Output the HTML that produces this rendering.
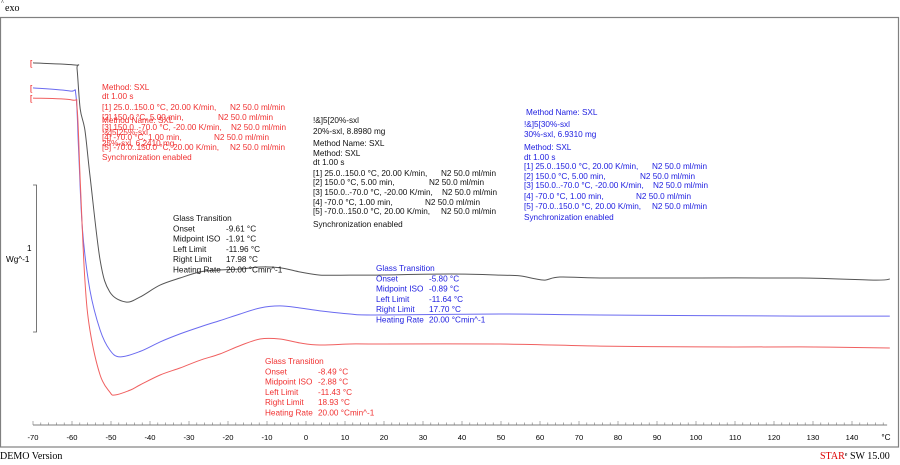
<!DOCTYPE html>
<html><head><meta charset="utf-8">
<style>
html,body{margin:0;padding:0;background:#fff;}
svg{display:block;}
text{font-family:"Liberation Sans",sans-serif;font-size:8.2px;}
.mono{font-family:"Liberation Serif",serif;font-size:10px;}
</style></head>
<body>
<svg id="chart" width="900" height="465" viewBox="0 0 900 465">
<text x="1" y="4" class="mono" style="font-size:6px">^</text>
<text x="5" y="11" class="mono">exo</text>
<rect x="0.5" y="17.5" width="898" height="429.5" fill="none" stroke="#808080" stroke-width="1.2"/>
<path d="M33 185 H36.5 V332 H33" fill="none" stroke="#555" stroke-width="0.8"/>
<text x="27" y="251">1</text>
<text x="6" y="262">Wg^-1</text>
<g id="axis"></g>
<g id="curves"></g>
<g id="texts"></g>
<text x="0" y="459" class="mono">DEMO Version</text>
<text x="820" y="459" class="mono"><tspan fill="#d00">STAR</tspan><tspan style="font-size:6px" dy="-3">e</tspan><tspan dy="3"> SW 15.00</tspan></text>
</svg>
<script>
// ---- data ----
const xTicks = [-70,-60,-50,-40,-30,-20,-10,0,10,20,30,40,50,60,70,80,90,100,110,120,130,140];
const tempBlack = [-70,-59.2,-58.7,-57.9,-56.7,-55.4,-52.8,-50.3,-46.2,-42.6,-37.4,-32.3,-27.2,-22.1,-16.9,-11.8,-6.7,-1.5,3.6,11.3,17.7,36.9,49.7,54.9,58.5,61.3,65.1,75.4,101,126.7,145.9,149.7];
const hfBlack   = [2.463,2.449,2.42,2.15,2.007,1.7,1.122,0.905,0.837,0.87,0.952,1.0,1.041,1.055,1.061,1.075,1.07,1.041,1.02,1.02,1.02,1.027,1.02,1.014,0.996,0.986,1.007,1.0,1.0,1.0,0.986,0.993];
const tempBlue  = [-70,-60.5,-59.0,-58.3,-57.3,-55.4,-52.8,-50.3,-47.7,-42.6,-37.4,-32.3,-27.2,-22.1,-16.9,-11.8,-6.7,-1.5,3.6,11.3,17.7,49.7,75.4,126.7,149.7];
const hfBlue    = [2.293,2.272,2.245,1.871,1.327,0.918,0.646,0.51,0.463,0.5,0.565,0.62,0.667,0.71,0.755,0.796,0.81,0.796,0.776,0.755,0.748,0.755,0.748,0.741,0.741];
const tempRed   = [-70,-60,-58.7,-57.9,-56.7,-55.4,-52.8,-50.3,-49,-45,-42.6,-37.4,-32.3,-27.2,-22.1,-16.9,-11.8,-6.7,-1.5,3.6,11.3,17.7,49.7,75.4,101,126.7,149.7];
const hfRed     = [2.224,2.211,2.156,1.667,0.986,0.646,0.34,0.224,0.204,0.238,0.272,0.34,0.388,0.44,0.483,0.54,0.585,0.585,0.558,0.544,0.551,0.551,0.551,0.537,0.531,0.531,0.524];

const X0=33, PX_PER_DEG=3.9, Y0=425, PX_PER_WG=147;
function xs(t){return X0+(t+70)*PX_PER_DEG;}
function ys(v){return Y0-v*PX_PER_WG;}
const NS="http://www.w3.org/2000/svg";
function mk(tag,attrs,parent){const e=document.createElementNS(NS,tag);for(const k in attrs)e.setAttribute(k,attrs[k]);parent.appendChild(e);return e;}

// axis
const ax=document.getElementById('axis');
const axLine=mk('line',{x1:xs(-70),x2:xs(149),y1:Y0,y2:Y0,stroke:'#555','stroke-width':0.8},ax);


for(let t=-70;t<=148;t+=2){
  const major=(t%10===0);
  const tk=mk('line',{x1:xs(t),x2:xs(t),y1:Y0,y2:Y0-(major?4:2.5),stroke:'#777','stroke-width':0.6},ax);
  
  
}
xTicks.forEach(t=>{
  const lb=mk('text',{x:xs(t),y:440,'text-anchor':'middle',style:'font-size:7.6px'},ax);
  lb.textContent=String(t);
  
  
});
const unit=mk('text',{x:886,y:440,'text-anchor':'middle'},ax);
unit.textContent='°C';



// curves (Catmull-Rom smoothing)
const cg=document.getElementById('curves');
function drawCurve(T,V,color,name){
  const P=T.map((t,i)=>[xs(t),ys(V[i])]);
  let d='M'+P[0][0].toFixed(1)+' '+P[0][1].toFixed(1);
  const k=0.5/3;
  for(let i=0;i<P.length-1;i++){
    const p0=P[Math.max(0,i-1)],p1=P[i],p2=P[i+1],p3=P[Math.min(P.length-1,i+2)];
    const c1=[p1[0]+(p2[0]-p0[0])*k,p1[1]+(p2[1]-p0[1])*k];
    const c2=[p2[0]-(p3[0]-p1[0])*k,p2[1]-(p3[1]-p1[1])*k];
    d+='C'+c1[0].toFixed(1)+' '+c1[1].toFixed(1)+' '+c2[0].toFixed(1)+' '+c2[1].toFixed(1)+' '+p2[0].toFixed(1)+' '+p2[1].toFixed(1);
  }
  const p=mk('path',{d:d,fill:'none',stroke:color,'stroke-width':1,'stroke-linejoin':'round'},cg);
  
  
  const m=mk('text',{x:xs(T[0])-3,y:ys(V[0])+3,fill:'#e00'},cg);
  m.textContent='[';
  
  
}
drawCurve(tempBlack,hfBlack,'#555','curve-20pct');
drawCurve(tempBlue,hfBlue,'#6b6bf0','curve-30pct');
drawCurve(tempRed,hfRed,'#f06060','curve-25pct');

// text annotations
const tg=document.getElementById('texts');
function line(x,y,str,color,name){
  const t=mk('text',{x:x,y:y,fill:color},tg);
  t.textContent=str;
  
  
  return t;
}
function segLines(x,ys,color,name){
  const segs=[["[1] 25.0..150.0 °C, 20.00 K/min,",128],["[2] 150.0 °C, 5.00 min,",116],["[3] 150.0..-70.0 °C, -20.00 K/min,",129],["[4] -70.0 °C, 1.00 min,",112],["[5] -70.0..150.0 °C, 20.00 K/min,",128]];
  segs.forEach((s,i)=>{
    line(x,ys[i],s[0],color,name+'-segment');
    line(x+s[1],ys[i],'N2 50.0 ml/min',color,name+'-gas');
  });
}
// red (25%)
const R='#f03030';
line(102,90,'Method: SXL',R,'method-25pct');
line(102,99,'dt 1.00 s',R,'method-25pct');
segLines(102,[110,120,130,140,150],R,'method-25pct');
line(102,160,'Synchronization enabled',R,'method-25pct');
line(102,123,'Method Name: SXL',R,'method-25pct');
line(102,135,'!&]5[25%-sxl',R,'method-25pct');
line(102,146,'25%-sxl, 6.2410 mg',R,'method-25pct');
// black (20%)
const K='#111';
line(313,123,'!&]5[20%-sxl',K,'method-20pct');
line(313,134,'20%-sxl, 8.8980 mg',K,'method-20pct');
line(313,146,'Method Name: SXL',K,'method-20pct');
line(313,156,'Method: SXL',K,'method-20pct');
line(313,165,'dt 1.00 s',K,'method-20pct');
segLines(313,[176,185,195,205,214],K,'method-20pct');
line(313,227,'Synchronization enabled',K,'method-20pct');
// blue (30%)
const B='#2020e0';
line(526,115,'Method Name: SXL',B,'method-30pct');
line(524,127,'!&]5[30%-sxl',B,'method-30pct');
line(524,137,'30%-sxl, 6.9310 mg',B,'method-30pct');
line(524,150,'Method: SXL',B,'method-30pct');
line(524,160,'dt 1.00 s',B,'method-30pct');
segLines(524,[169,179,188,199,209],B,'method-30pct');
line(524,220,'Synchronization enabled',B,'method-30pct');
// glass transitions
function gt(x,y,color,vals,name){
  const labels=['Onset','Midpoint ISO','Left Limit','Right Limit','Heating Rate'];
  line(x,y,'Glass Transition',color,name);
  labels.forEach((l,i)=>{
    line(x,y+10.3*(i+1),l,color,name+'-label');
    line(x+53,y+10.3*(i+1),vals[i],color,name+'-value');
  });
}
gt(173,221,K,['-9.61 °C','-1.91 °C','-11.96 °C','17.98 °C','20.00 °Cmin^-1'],'glass-transition-20pct');
gt(376,271,B,['-5.80 °C','-0.89 °C','-11.64 °C','17.70 °C','20.00 °Cmin^-1'],'glass-transition-30pct');
gt(265,364,R,['-8.49 °C','-2.88 °C','-11.43 °C','18.93 °C','20.00 °Cmin^-1'],'glass-transition-25pct');
</script>
</body></html>
